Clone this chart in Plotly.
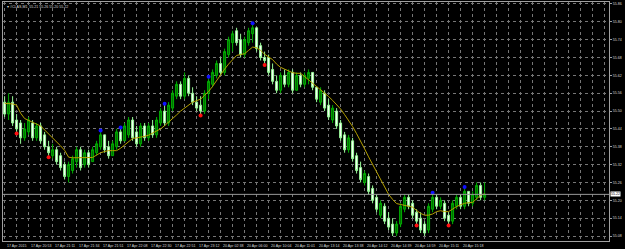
import plotly.graph_objects as go

# ---------------- data ----------------
open_ = [55.53,55.49,55.53,55.47,55.46,55.41,55.43,55.46,55.41,55.45,
         55.42,55.38,55.35,55.37,55.35,55.32,55.28,55.30,55.33,55.37,
         55.32,55.36,55.33,55.36,55.38,55.42,55.38,55.35,55.38,55.43,
         55.40,55.42,55.47,55.43,55.39,55.45,55.41,55.45,55.42,55.46,
         55.50,55.46,55.51,55.55,55.59,55.55,55.61,55.56,55.53,55.52,
         55.50,55.56,55.59,55.62,55.66,55.63,55.69,55.73,55.77,55.74,
         55.69,55.73,55.76,55.78,55.72,55.68,55.68,55.64,55.60,55.57,
         55.62,55.59,55.63,55.57,55.62,55.59,55.61,55.63,55.58,55.53,
         55.56,55.52,55.47,55.50,55.46,55.42,55.37,55.40,55.35,55.31,
         55.26,55.28,55.24,55.21,55.15,55.18,55.14,55.12,55.09,55.12,
         55.17,55.21,55.19,55.16,55.14,55.12,55.10,55.17,55.21,55.18,
         55.19,55.15,55.13,55.18,55.21,55.18,55.23,55.19,55.21,55.25,
         55.21]
high = [55.55,55.56,55.55,55.49,55.47,55.46,55.48,55.47,55.46,55.46,
        55.43,55.40,55.39,55.38,55.36,55.33,55.33,55.35,55.38,55.38,
        55.37,55.37,55.38,55.40,55.43,55.42,55.40,55.40,55.44,55.44,
        55.46,55.48,55.48,55.45,55.46,55.46,55.46,55.47,55.48,55.51,
        55.52,55.53,55.57,55.60,55.60,55.63,55.62,55.58,55.55,55.55,
        55.57,55.61,55.64,55.67,55.68,55.71,55.75,55.77,55.78,55.76,
        55.75,55.78,55.79,55.78,55.73,55.70,55.69,55.66,55.62,55.63,
        55.64,55.64,55.64,55.63,55.63,55.63,55.64,55.63,55.58,55.58,
        55.57,55.54,55.52,55.51,55.47,55.43,55.42,55.41,55.36,55.33,
        55.30,55.29,55.25,55.22,55.20,55.19,55.16,55.14,55.13,55.19,
        55.22,55.22,55.20,55.17,55.16,55.13,55.19,55.22,55.22,55.21,
        55.20,55.16,55.20,55.22,55.22,55.24,55.23,55.23,55.26,55.26,
        55.26]
low = [55.48,55.47,55.45,55.43,55.39,55.40,55.42,55.40,55.40,55.39,
       55.37,55.35,55.34,55.32,55.30,55.27,55.26,55.29,55.31,55.30,
       55.31,55.31,55.33,55.35,55.37,55.36,55.34,55.35,55.37,55.39,
       55.40,55.41,55.40,55.38,55.38,55.40,55.40,55.41,55.41,55.45,
       55.45,55.45,55.50,55.54,55.54,55.54,55.55,55.52,55.50,55.49,
       55.49,55.54,55.58,55.61,55.62,55.62,55.68,55.70,55.72,55.68,
       55.68,55.72,55.73,55.70,55.67,55.66,55.62,55.59,55.56,55.56,
       55.58,55.58,55.56,55.57,55.58,55.58,55.59,55.57,55.53,55.52,
       55.50,55.47,55.46,55.44,55.40,55.36,55.36,55.33,55.29,55.26,
       55.25,55.22,55.19,55.16,55.14,55.12,55.10,55.08,55.08,55.11,
       55.16,55.17,55.14,55.12,55.09,55.08,55.09,55.16,55.17,55.17,
       55.13,55.12,55.12,55.17,55.17,55.17,55.18,55.18,55.20,55.20,
       55.20]
close = [55.49,55.53,55.46,55.44,55.41,55.44,55.47,55.41,55.45,55.40,
         55.38,55.36,55.37,55.33,55.31,55.28,55.32,55.34,55.37,55.31,
         55.36,55.32,55.37,55.39,55.42,55.37,55.35,55.39,55.43,55.40,
         55.45,55.47,55.41,55.39,55.45,55.41,55.45,55.42,55.47,55.50,
         55.46,55.52,55.56,55.59,55.55,55.61,55.56,55.53,55.51,55.50,
         55.56,55.60,55.63,55.66,55.63,55.70,55.74,55.76,55.73,55.69,
         55.74,55.77,55.78,55.71,55.68,55.67,55.63,55.60,55.57,55.62,
         55.59,55.63,55.57,55.62,55.59,55.62,55.63,55.58,55.54,55.57,
         55.51,55.48,55.51,55.45,55.41,55.37,55.41,55.34,55.30,55.27,
         55.29,55.23,55.20,55.17,55.19,55.13,55.11,55.09,55.12,55.18,
         55.21,55.18,55.15,55.13,55.10,55.09,55.18,55.21,55.18,55.20,
         55.14,55.13,55.19,55.21,55.18,55.23,55.19,55.22,55.25,55.21,
         55.22]
ma = [55.526,55.525,55.524,55.520,55.493,55.475,55.468,55.462,55.456,55.450,
      55.437,55.424,55.410,55.396,55.383,55.368,55.345,55.343,55.343,55.343,
      55.343,55.343,55.344,55.352,55.360,55.364,55.367,55.367,55.367,55.375,
      55.386,55.400,55.408,55.410,55.412,55.415,55.419,55.426,55.433,55.440,
      55.451,55.462,55.474,55.487,55.500,55.511,55.522,55.530,55.535,55.540,
      55.553,55.566,55.583,55.603,55.623,55.641,55.658,55.674,55.687,55.690,
      55.693,55.704,55.715,55.713,55.704,55.691,55.682,55.673,55.658,55.647,
      55.641,55.635,55.629,55.627,55.627,55.616,55.605,55.595,55.584,55.573,
      55.561,55.549,55.536,55.521,55.507,55.488,55.469,55.448,55.424,55.400,
      55.373,55.346,55.320,55.293,55.267,55.242,55.220,55.203,55.189,55.186,
      55.183,55.180,55.177,55.166,55.156,55.150,55.150,55.154,55.162,55.165,
      55.162,55.162,55.171,55.179,55.185,55.190,55.192,55.193,55.205,55.217,
      55.222]
blue_idx = [24, 29, 40, 51, 62, 107, 115]
blue_val = [55.435, 55.445, 55.525, 55.615, 55.795, 55.225, 55.245]
red_idx = [3, 11, 49, 65, 103, 111]
red_val = [55.425, 55.345, 55.485, 55.655, 55.115, 55.115]

time_idx = [0, 6, 12, 18, 24, 30, 36, 42, 48, 54, 60, 66, 72, 78, 84, 90, 96, 102, 108, 114]
time_labels = ["17 Apr 2015", "17 Apr 20:53", "17 Apr 21:11", "17 Apr 21:34", "17 Apr 21:51",
               "17 Apr 22:08", "17 Apr 22:30", "17 Apr 22:51", "17 Apr 23:12", "20 Apr 02:38",
               "20 Apr 06:00", "20 Apr 10:04", "20 Apr 11:01", "20 Apr 13:14", "20 Apr 13:38",
               "20 Apr 14:12", "20 Apr 14:39", "20 Apr 14:59", "20 Apr 15:11", "20 Apr 15:18"]
price_ticks = [55.08, 55.14, 55.20, 55.26, 55.32, 55.38, 55.44, 55.50,
               55.56, 55.62, 55.68, 55.74, 55.80, 55.86]
symbol = "#CLAS,M1"

# ---------------- figure ----------------
x = list(range(len(close)))
FONT = "Liberation Sans"
TXT = "#d8d8d8"
GRID = "#767676"

fig = go.Figure()
fig.add_trace(go.Candlestick(
    x=x, open=open_, high=high, low=low, close=close,
    increasing=dict(line=dict(color="#00b000", width=1), fillcolor="#006a00"),
    decreasing=dict(line=dict(color="#98f898", width=1), fillcolor="#ffffff"),
    whiskerwidth=0, hoverinfo="skip", showlegend=False))
fig.add_trace(go.Scatter(x=x, y=ma, mode="lines",
                         line=dict(color="#b4a000", width=1),
                         hoverinfo="skip", showlegend=False))
fig.add_trace(go.Scatter(x=blue_idx, y=blue_val, mode="markers",
                         marker=dict(color="#1010ff", size=4),
                         hoverinfo="skip", showlegend=False))
fig.add_trace(go.Scatter(x=red_idx, y=red_val, mode="markers",
                         marker=dict(color="#ff1010", size=4),
                         hoverinfo="skip", showlegend=False))

# current price line
fig.add_shape(type="line", xref="paper", x0=0, x1=1, yref="y",
              y0=close[-1], y1=close[-1], line=dict(color="#9a9a9a", width=1))

annotations = []
for i, t in zip(time_idx, time_labels):
    annotations.append(dict(x=i, y=0, xref="x", yref="paper", text=t,
                            showarrow=False, xanchor="left", yanchor="top",
                            xshift=0, yshift=-1,
                            font=dict(family=FONT, size=3.6, color=TXT)))
annotations.append(dict(x=1, y=close[-1], xref="paper", yref="y",
                        text="%.2f" % close[-1], showarrow=False,
                        xanchor="left", yanchor="middle", xshift=1,
                        bgcolor="#ffffff", borderpad=0,
                        font=dict(family=FONT, size=3.6, color="#000000")))
annotations.append(dict(x=0, y=1, xref="paper", yref="paper",
                        text="\u25be %s  %.2f %.2f %.2f %.2f" % (symbol, open_[-1], high[-1], low[-1], close[-1]),
                        showarrow=False, xanchor="left", yanchor="top",
                        xshift=2, yshift=-1,
                        font=dict(family=FONT, size=3.6, color=TXT)))

fig.update_layout(
    width=625, height=249,
    margin=dict(l=3, r=16, t=2, b=8),
    paper_bgcolor="#000000", plot_bgcolor="#000000",
    annotations=annotations,
    xaxis=dict(range=[-0.4, 151.1], rangeslider=dict(visible=False),
               tickvals=list(range(0, 152, 3)), showticklabels=False,
               showgrid=True, gridcolor=GRID, griddash="dot", gridwidth=1,
               zeroline=False, showline=True, linecolor="#a0a0a0",
               linewidth=1, mirror=True, ticks=""),
    yaxis=dict(range=[55.0632, 55.8667], side="right",
               tickvals=price_ticks, ticktext=["%.2f" % v for v in price_ticks],
               tickfont=dict(family=FONT, size=3.6, color=TXT),
               showgrid=True, gridcolor=GRID, griddash="dot", gridwidth=1,
               zeroline=False, showline=True, linecolor="#a0a0a0",
               linewidth=1, mirror=True, ticks="outside", ticklen=2,
               tickcolor="#a0a0a0"),
)

fig.write_html("out.html")
